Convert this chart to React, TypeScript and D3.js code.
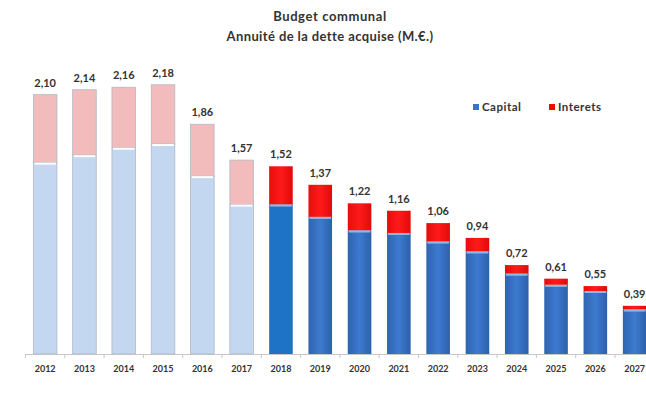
import React from 'react';
import * as d3 from 'd3';

const years = ['2012', '2013', '2014', '2015', '2016', '2017', '2018', '2019', '2020', '2021', '2022', '2023', '2024', '2025', '2026', '2027'];
const capital = [1.55, 1.61, 1.67, 1.7, 1.44, 1.21, 1.21, 1.11, 1.0, 0.98, 0.91, 0.83, 0.65, 0.56, 0.51, 0.36];
const interets = [0.55, 0.53, 0.49, 0.48, 0.42, 0.36, 0.31, 0.26, 0.22, 0.18, 0.15, 0.11, 0.07, 0.05, 0.04, 0.03];
const totals = ['2,10', '2,14', '2,16', '2,18', '1,86', '1,57', '1,52', '1,37', '1,22', '1,16', '1,06', '0,94', '0,72', '0,61', '0,55', '0,39'];
// years before this one are drawn in faded colours (realised)
const firstForecast = '2018';

const W = 646;
const H = 406;
const font = 'Lato, "Open Sans", sans-serif';

const App: React.FC = () => {
  const x = d3.scaleBand().domain(years).range([25.5, 25.5 + 39.3 * 16]).paddingInner(0.4).paddingOuter(0.2);
  const y = d3.scaleLinear().domain([0, 2.5]).range([354, 354 - 2.5 * 123.5]);
  const bw = x.bandwidth();
  const fIdx = years.indexOf(firstForecast);

  const rows = years.map((yr, i) => ({ yr, capital: capital[i], interets: interets[i] }));
  const stacked = d3.stack<any>().keys(['capital', 'interets'])(rows);

  return (
    <div style={{ position: 'absolute', left: 0, top: 0 }}>
      <svg width={W} height={H} style={{ display: 'block', background: '#fff' }}>
        <defs>
          <linearGradient id="blueG" x1="0" x2="1" y1="0" y2="0">
            <stop offset="0" stopColor="#2f64b0" />
            <stop offset="0.5" stopColor="#3d7ad0" />
            <stop offset="1" stopColor="#2d60aa" />
          </linearGradient>
          <linearGradient id="redG" x1="0" x2="1" y1="0" y2="0">
            <stop offset="0" stopColor="#e80c0c" />
            <stop offset="0.5" stopColor="#ff1a1a" />
            <stop offset="1" stopColor="#e00a0a" />
          </linearGradient>
        </defs>

        <text x={330} y={21} textAnchor="middle" fontFamily={font} fontWeight="bold" fontSize={13} letterSpacing={0.6} fill="#333">
          Budget communal
        </text>
        <text x={330} y={41} textAnchor="middle" fontFamily={font} fontWeight="bold" fontSize={13} letterSpacing={0.4} fill="#333">
          Annuité de la dette acquise (M.€.)
        </text>

        {/* axis line */}
        <line x1={25} x2={W} y1={y(0) + 0.5} y2={y(0) + 0.5} stroke="#c8c8c8" />
        {years.map((yr) => (
          <line key={'t' + yr} x1={x(yr)! - (x.step() - bw) / 2} x2={x(yr)! - (x.step() - bw) / 2} y1={y(0)} y2={y(0) + 4} stroke="#c8c8c8" />
        ))}

        {stacked.map((layer) =>
          layer.map((d, i) => {
            const yr = years[i];
            const past = i < fIdx;
            const isCap = layer.key === 'capital';
            let fill: string;
            if (past) fill = isCap ? '#c3d7f0' : '#f3bcbc';
            else if (yr === firstForecast && isCap) fill = '#1f73c6';
            else fill = isCap ? 'url(#blueG)' : 'url(#redG)';
            return (
              <rect
                key={layer.key + yr}
                x={x(yr)}
                y={y(d[1])}
                width={bw}
                height={y(d[0]) - y(d[1])}
                fill={fill}
                stroke={past ? '#b0b8c4' : 'none'}
                strokeWidth={past ? 0.8 : 0}
              />
            );
          })
        )}

        {/* light line at the split */}
        {years.map((yr, i) => (
          <line
            key={'s' + yr}
            x1={x(yr)! + 1}
            x2={x(yr)! + bw - 1}
            y1={y(capital[i]) + 1}
            y2={y(capital[i]) + 1}
            stroke={i < fIdx ? '#ffffff' : '#8fb8ea'}
            strokeWidth={2}
          />
        ))}

        {years.map((yr, i) => (
          <text
            key={'v' + yr}
            x={x(yr)! + bw / 2}
            y={y(capital[i] + interets[i]) - 8}
            textAnchor="middle"
            fontFamily={font}
            fontWeight="bold"
            fontSize={11}
            fill="#333"
          >
            {totals[i]}
          </text>
        ))}

        {years.map((yr) => (
          <text key={'l' + yr} x={x(yr)! + bw / 2} y={372} textAnchor="middle" fontFamily={font} fontWeight="bold" fontSize={9} fill="#333">
            {yr}
          </text>
        ))}

        {/* legend */}
        <rect x={473} y={104} width={6} height={6} fill="#3a74c4" />
        <text x={482} y={111} fontFamily={font} fontWeight="bold" fontSize={11.5} letterSpacing={0.5} fill="#333">
          Capital
        </text>
        <rect x={549} y={104} width={6} height={6} fill="#f00" />
        <text x={558} y={111} fontFamily={font} fontWeight="bold" fontSize={11.5} letterSpacing={0.5} fill="#333">
          Interets
        </text>
      </svg>
    </div>
  );
};

export default App;
